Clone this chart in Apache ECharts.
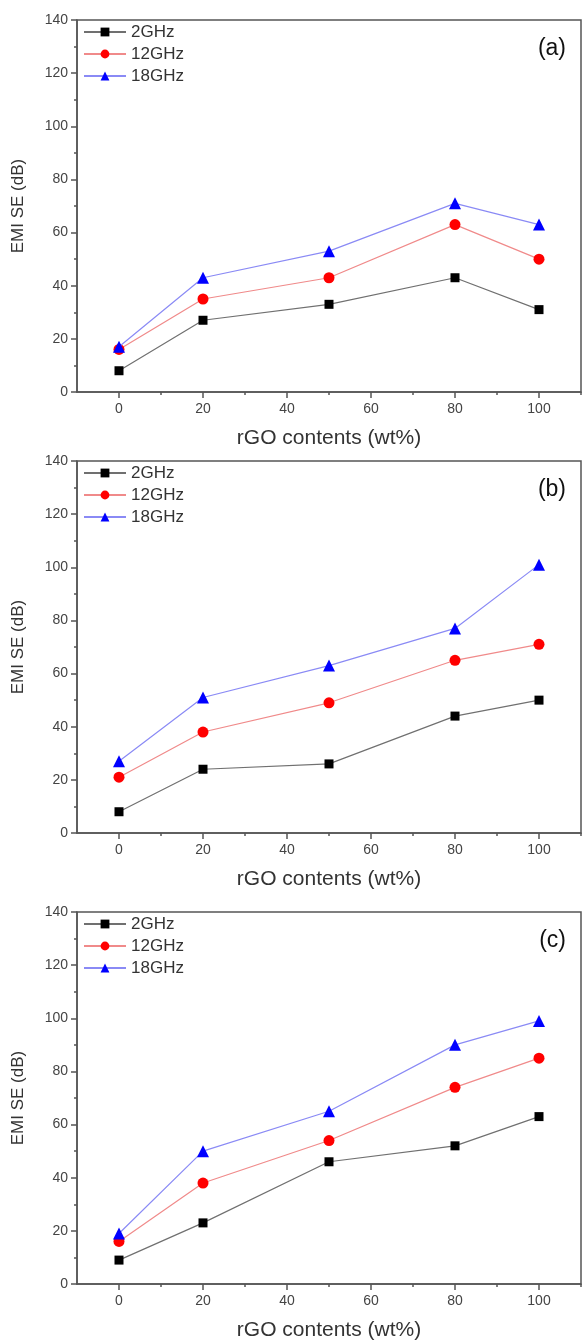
<!DOCTYPE html>
<html>
<head>
<meta charset="utf-8">
<script src="https://cdn.jsdelivr.net/npm/echarts@6/dist/echarts.min.js"></script>
<style>
html,body{margin:0;padding:0;background:#fff;}
#c{width:583px;height:1342px;}
</style>
</head>
<body>
<div id="c"></div>
<script>
var xValues = [0, 20, 50, 80, 100];
var seriesNames = ['2GHz', '12GHz', '18GHz'];
var panelLabels = ['(a)', '(b)', '(c)'];
var xTickLabels = [0, 20, 40, 60, 80, 100];
var xMinorTicks = [10, 30, 50, 70, 90, 110];

var panelA_2GHz  = [8, 27, 33, 43, 31];
var panelA_12GHz = [16, 35, 43, 63, 50];
var panelA_18GHz = [17, 43, 53, 71, 63];

var panelB_2GHz  = [8, 24, 26, 44, 50];
var panelB_12GHz = [21, 38, 49, 65, 71];
var panelB_18GHz = [27, 51, 63, 77, 101];

var panelC_2GHz  = [9, 23, 46, 52, 63];
var panelC_12GHz = [16, 38, 54, 74, 85];
var panelC_18GHz = [19, 50, 65, 90, 99];

var panels = [
  [panelA_2GHz, panelA_12GHz, panelA_18GHz],
  [panelB_2GHz, panelB_12GHz, panelB_18GHz],
  [panelC_2GHz, panelC_12GHz, panelC_18GHz]
];

var gridTops = [20, 461, 912];
var gridH = 372;
var styles = [
  {symbol: 'rect', size: 9, color: '#000000', line: '#707070'},
  {symbol: 'circle', size: 11, color: '#ff0000', line: '#f08a8a'},
  {symbol: 'triangle', size: 12, color: '#0000ff', line: '#8a8af5'}
];
var axisColor = '#555';
var labelColor = '#444';
var font = 'Liberation Sans, Arial, sans-serif';

var grids = [], xAxes = [], yAxes = [], series = [], legends = [], titles = [];
panels.forEach(function (p, i) {
  grids.push({left: 77, right: 2, top: gridTops[i], height: gridH, show: true,
    borderColor: axisColor, borderWidth: 1.5, backgroundColor: 'transparent'});
  xAxes.push({
    gridIndex: i, type: 'value', min: -10, max: 110,
    name: 'rGO contents (wt%)', nameLocation: 'middle', nameGap: 36,
    nameTextStyle: {fontFamily: font, fontSize: 21, color: '#333'},
    axisLine: {onZero: false, lineStyle: {color: axisColor, width: 1.5}},
    axisTick: {length: 6, customValues: xTickLabels, lineStyle: {color: axisColor, width: 1.5}},
    axisLabel: {customValues: xTickLabels, fontFamily: font, fontSize: 14, color: labelColor, margin: 10},
    splitLine: {show: false}
  });
  xAxes.push({
    gridIndex: i, type: 'value', min: -10, max: 110, position: 'bottom',
    axisLine: {show: false, onZero: false},
    axisTick: {length: 3, customValues: xMinorTicks, lineStyle: {color: axisColor, width: 1.5}},
    axisLabel: {show: false}, splitLine: {show: false}
  });
  yAxes.push({
    gridIndex: i, type: 'value', min: 0, max: 140, interval: 20,
    name: 'EMI SE (dB)', nameLocation: 'middle', nameGap: 50,
    nameTextStyle: {fontFamily: font, fontSize: 17, color: '#333'},
    axisLine: {show: true, onZero: false, lineStyle: {color: axisColor, width: 1.5}},
    axisTick: {length: 6, lineStyle: {color: axisColor, width: 1.5}},
    minorTick: {show: true, splitNumber: 2, length: 3, lineStyle: {color: axisColor, width: 1.5}},
    axisLabel: {fontFamily: font, fontSize: 14, color: labelColor, margin: 9},
    splitLine: {show: false}
  });
  p.forEach(function (vals, k) {
    var st = styles[k];
    series.push({
      name: seriesNames[k], type: 'line', xAxisIndex: i * 2, yAxisIndex: i,
      data: xValues.map(function (x, j) { return [x, vals[j]]; }),
      symbol: st.symbol, symbolSize: st.size, showSymbol: true,
      itemStyle: {color: st.color},
      lineStyle: {color: st.line, width: 1.2},
      z: 3 + k, animation: false
    });
  });
  legends.push({
    left: 83, top: gridTops[i] + 3, orient: 'vertical', padding: 0,
    itemWidth: 42, itemHeight: 11, itemGap: 4,
    data: seriesNames,
    textStyle: {fontFamily: font, fontSize: 17, color: '#333', lineHeight: 18},
    selectedMode: false
  });
  titles.push({
    text: panelLabels[i], right: 12, top: gridTops[i] + 12,
    textStyle: {fontFamily: font, fontSize: 23, fontWeight: 'normal', color: '#111'}
  });
});

var chart = echarts.init(document.getElementById('c'), null, {renderer: 'canvas'});
chart.setOption({
  animation: false,
  backgroundColor: '#fff',
  title: titles,
  legend: legends,
  grid: grids,
  xAxis: xAxes,
  yAxis: yAxes,
  series: series
});
</script>
</body>
</html>
